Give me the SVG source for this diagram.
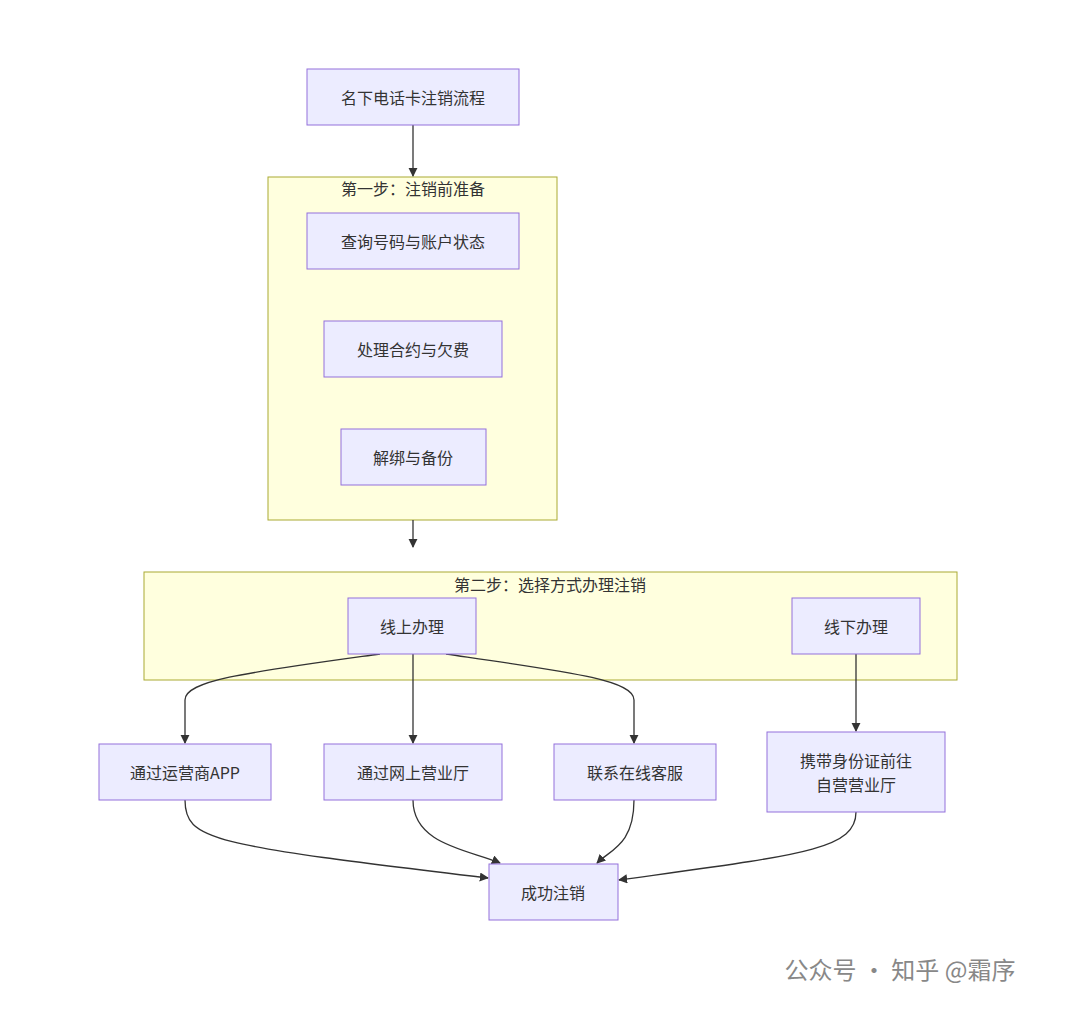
<svg xmlns="http://www.w3.org/2000/svg" width="1080" height="1012" viewBox="0 0 1080 1012">
<defs>
<style>
.n{fill:#ececff;stroke:#9370db;stroke-width:1}
.c{fill:#ffffde;stroke:#aaaa33;stroke-width:1}
text{font-family:"Noto Sans CJK SC","Liberation Sans",sans-serif;font-size:16px;fill:#333;text-anchor:middle;dominant-baseline:central}
.e{fill:none;stroke:#333;stroke-width:1.3;marker-end:url(#a)}
</style>
<marker id="a" viewBox="0 0 10 10" refX="9" refY="5" markerWidth="7" markerHeight="7" orient="auto"><path d="M0,0L10,5L0,10z" fill="#333"/></marker>
</defs>
<rect width="1080" height="1012" fill="#fff"/>
<g id="cluster1"><rect class="c" x="268" y="177" width="289" height="343"/><text x="413" y="188">第一步：注销前准备</text></g>
<g id="cluster2"><rect class="c" x="144" y="572" width="813" height="108"/><text x="550" y="584">第二步：选择方式办理注销</text></g>
<g id="connectors">
<path class="e" d="M413,125V176"/>
<path class="e" d="M413,520V547"/>
<path class="e" d="M380,654C250,672 185,680 185,700V743"/>
<path class="e" d="M413,654V743"/>
<path class="e" d="M446,654C570,672 634,680 634,700V743"/>
<path class="e" d="M856,654V731"/>
<path class="e" d="M185,800C185,840 210,845 488,878"/>
<path class="e" d="M413,800C413,845 470,850 500,863"/>
<path class="e" d="M634,800C634,845 610,850 597,863"/>
<path class="e" d="M856,812C856,850 800,855 619,880"/>
</g>
<g id="n0"><rect class="n" x="307" y="69" width="212" height="56"/><text x="413" y="97">名下电话卡注销流程</text></g>
<g id="n1"><rect class="n" x="307" y="213" width="212" height="56"/><text x="413" y="241">查询号码与账户状态</text></g>
<g id="n2"><rect class="n" x="324" y="321" width="178" height="56"/><text x="413" y="349">处理合约与欠费</text></g>
<g id="n3"><rect class="n" x="341" y="429" width="145" height="56"/><text x="413" y="457">解绑与备份</text></g>
<g id="n4"><rect class="n" x="348" y="598" width="128" height="56"/><text x="412" y="626">线上办理</text></g>
<g id="n5"><rect class="n" x="792" y="598" width="128" height="56"/><text x="856" y="626">线下办理</text></g>
<g id="n6"><rect class="n" x="99" y="744" width="172" height="56"/><text x="185" y="772">通过运营商APP</text></g>
<g id="n7"><rect class="n" x="324" y="744" width="178" height="56"/><text x="413" y="772">通过网上营业厅</text></g>
<g id="n8"><rect class="n" x="554" y="744" width="162" height="56"/><text x="635" y="772">联系在线客服</text></g>
<g id="n9"><rect class="n" x="767" y="732" width="178" height="80"/><text x="856" y="760">携带身份证前往</text><text x="856" y="784">自营营业厅</text></g>
<g id="n10"><rect class="n" x="489" y="864" width="129" height="56"/><text x="553" y="892">成功注销</text></g>
<text x="900" y="968" style="font-size:24px;fill:#888">公众号 · 知乎 @霜序</text>
</svg>
